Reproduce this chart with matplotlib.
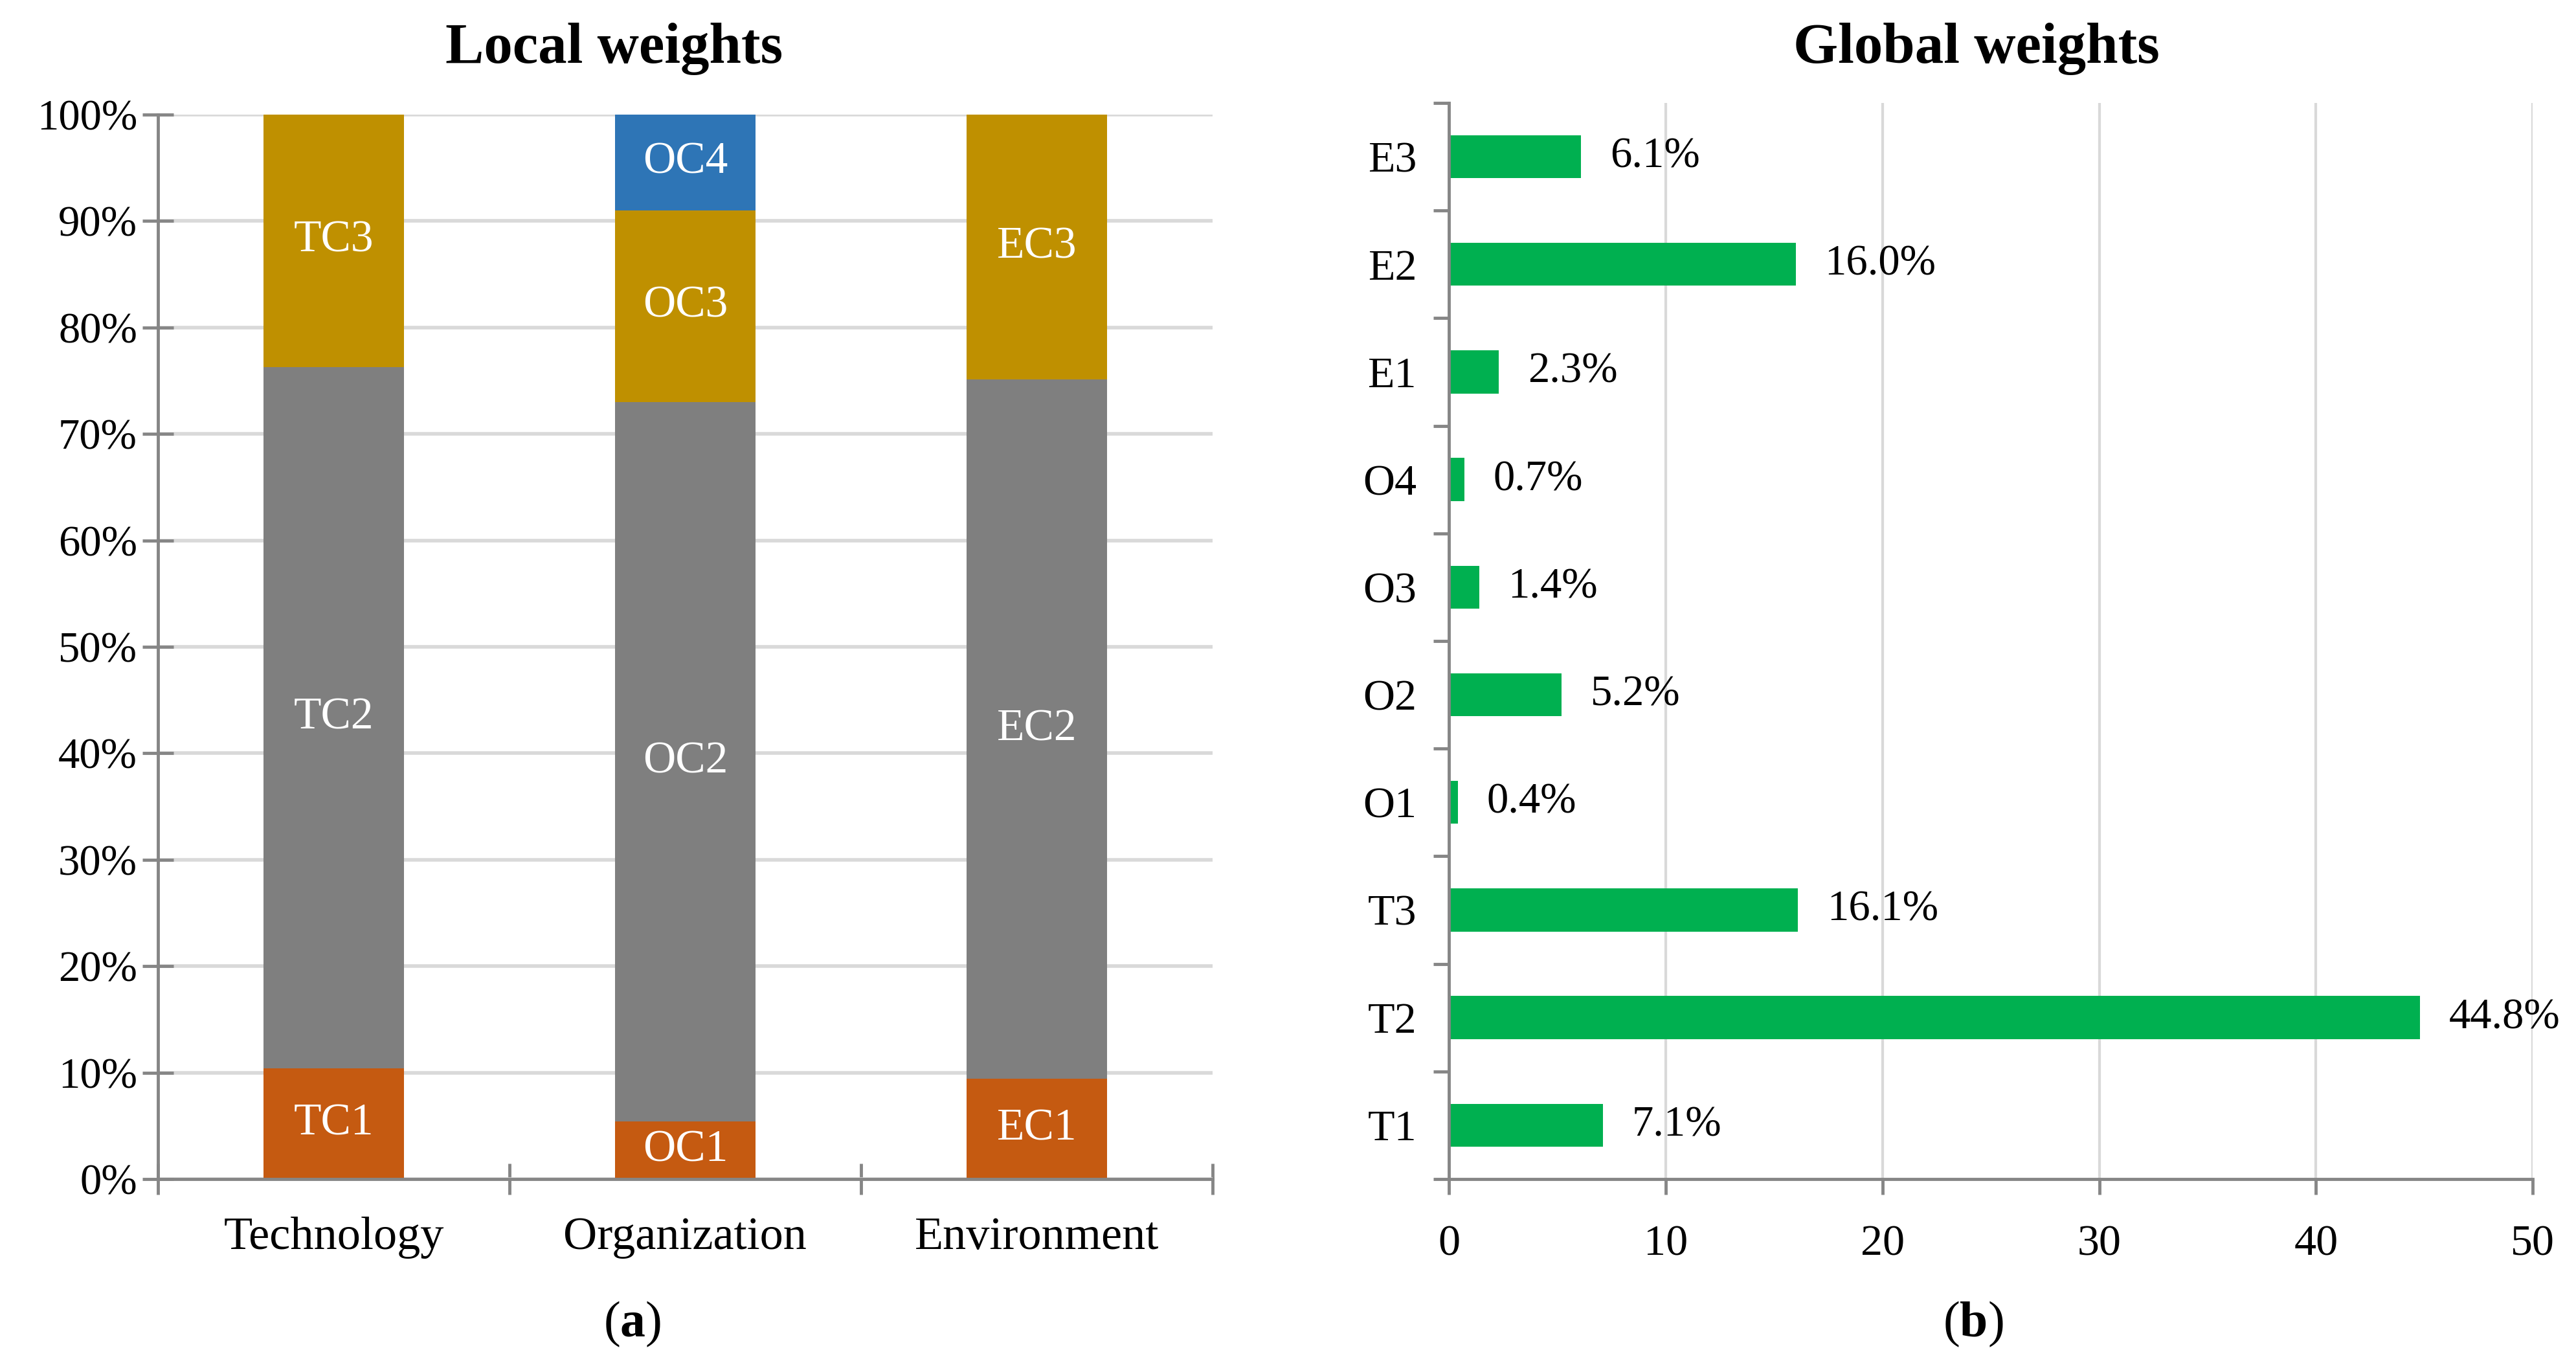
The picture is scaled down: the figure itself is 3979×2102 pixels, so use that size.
import numpy as np
import matplotlib
matplotlib.use("Agg")
import matplotlib.pyplot as plt
from matplotlib.ticker import FixedLocator, PercentFormatter, NullFormatter

plt.rcParams['font.family'] = ['Liberation Serif', 'DejaVu Serif']
plt.rcParams['mathtext.fontset'] = 'custom'
plt.rcParams['mathtext.rm'] = 'Liberation Serif'
plt.rcParams['mathtext.bf'] = 'Liberation Serif:bold'

# local weights (share of each dimension, %)
groups = ["Technology", "Organization", "Environment"]
tech_local = [10.4, 65.9, 23.7]
org_local = [5.4, 67.6, 18.0, 9.0]
env_local = [9.4, 65.7, 24.9]
tech_names = ["TC1", "TC2", "TC3"]
org_names = ["OC1", "OC2", "OC3", "OC4"]
env_names = ["EC1", "EC2", "EC3"]

# global weights (%)
crit = ["T1", "T2", "T3", "O1", "O2", "O3", "O4", "E1", "E2", "E3"]
glob = [7.1, 44.8, 16.1, 0.4, 5.2, 1.4, 0.7, 2.3, 16.0, 6.1]

seg_colors = ["#C55A11", "#7F7F7F", "#BF9000", "#2E75B6"]
axis_col = "#868686"
grid_col = "#D9D9D9"
green = "#00B050"

fig = plt.figure(figsize=(39.79, 21.02), dpi=100)
ax1 = fig.add_axes([0.0613, 0.1337, 0.4094, 0.7821])
ax2 = fig.add_axes([0.5625, 0.1337, 0.4207, 0.7907])

# ---- (a) local weights
stacks = [tech_local, org_local, env_local]
names = [tech_names, org_names, env_names]
for i, (vals, labs) in enumerate(zip(stacks, names)):
    bottom = 0
    for j, (v, lab) in enumerate(zip(vals, labs)):
        ax1.bar(i, v, bottom=bottom, width=0.4, color=seg_colors[j], zorder=3)
        ax1.text(i, bottom + v / 2, lab, ha="center", va="center",
                 color="white", fontsize=50, zorder=4)
        bottom += v

ax1.set_xlim(-0.5, 2.5)
ax1.set_ylim(0, 100)
ax1.yaxis.set_major_locator(FixedLocator(np.arange(0, 101, 10)))
ax1.yaxis.set_major_formatter(PercentFormatter(decimals=0))
ax1.yaxis.grid(True, color=grid_col, linewidth=4, zorder=0)
ax1.xaxis.set_major_locator(FixedLocator([-0.5, 0.5, 1.5, 2.5]))
ax1.xaxis.set_major_formatter(NullFormatter())
ax1.xaxis.set_minor_locator(FixedLocator([0, 1, 2]))
ax1.set_xticklabels(groups, minor=True)
ax1.tick_params(axis="x", which="minor", length=0, pad=42, labelsize=52)
ax1.tick_params(axis="x", which="major", direction="inout", length=34,
                width=3.5, color=axis_col)
ax1.tick_params(axis="y", direction="inout", length=34, width=3.5,
                color=axis_col, labelsize=48, pad=6)
for s in ["top", "right"]:
    ax1.spines[s].set_visible(False)
for s in ["left", "bottom"]:
    ax1.spines[s].set_color(axis_col)
    ax1.spines[s].set_linewidth(3.5)
    ax1.spines[s].set_zorder(5)

# ---- (b) global weights
ypos = np.arange(len(crit))
ax2.barh(ypos, glob, height=0.4, color=green, zorder=3)
for y, v in zip(ypos, glob):
    ax2.annotate(f"{v:.1f}%", (v, y), xytext=(32, 0), textcoords="offset points",
                 ha="left", va="center", fontsize=48)

ax2.set_xlim(0, 50)
ax2.set_ylim(-0.5, len(crit) - 0.5)
ax2.xaxis.set_major_locator(FixedLocator(np.arange(0, 51, 10)))
ax2.xaxis.grid(True, color=grid_col, linewidth=3, zorder=0)
ax2.yaxis.set_major_locator(FixedLocator(np.arange(-0.5, len(crit), 1)))
ax2.yaxis.set_major_formatter(NullFormatter())
ax2.yaxis.set_minor_locator(FixedLocator(ypos))
ax2.set_yticklabels(crit, minor=True)
ax2.tick_params(axis="y", which="minor", length=0, pad=36, labelsize=49)
ax2.tick_params(axis="y", which="major", direction="out", length=17,
                width=3.5, color=axis_col)
ax2.tick_params(axis="x", direction="out", length=17, width=3.5,
                color=axis_col, labelsize=49, pad=34)
for s in ["top", "right"]:
    ax2.spines[s].set_visible(False)
for s in ["left", "bottom"]:
    ax2.spines[s].set_color(axis_col)
    ax2.spines[s].set_linewidth(3.5)
    ax2.spines[s].set_zorder(5)

# titles and panel captions
fig.text(0.2385, 0.964, "Local weights", fontsize=64, fontweight="bold",
         ha="center", va="center")
fig.text(0.7672, 0.964, "Global weights", fontsize=64, fontweight="bold",
         ha="center", va="center")
fig.text(0.2455, 0.027, r"($\mathbf{a}$)", fontsize=56, ha="center", va="center")
fig.text(0.766, 0.027, r"($\mathbf{b}$)", fontsize=56, ha="center", va="center")

fig.savefig("out.png", dpi=100)
